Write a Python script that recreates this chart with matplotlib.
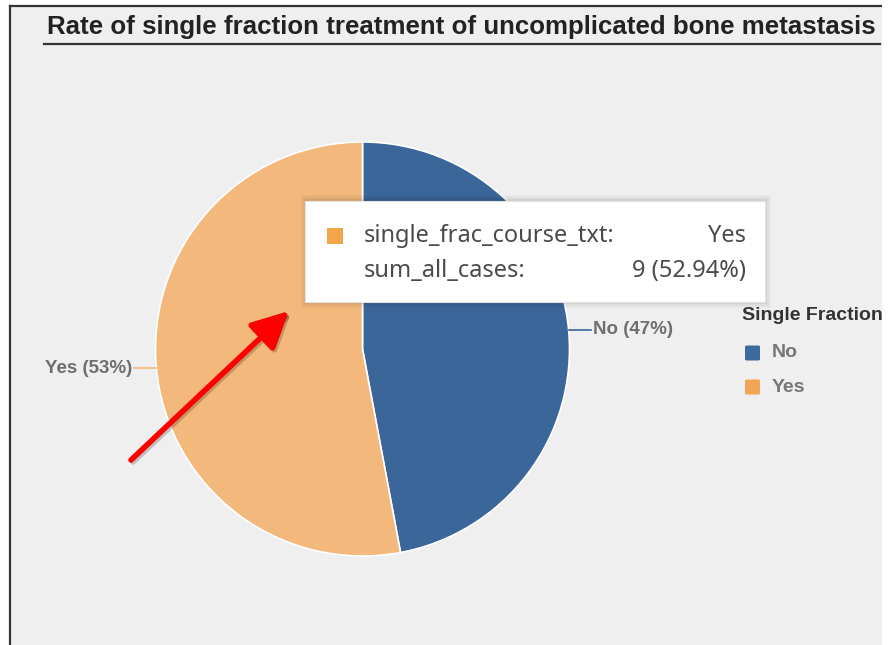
import matplotlib.pyplot as plt
import matplotlib.patches as mpatches
from matplotlib.lines import Line2D
import numpy as np

W, H = 895, 645

categories = ["No", "Yes"]
case_counts = [8, 9]
slice_colors = ["#3a6699", "#f3b87c"]
legend_colors = ["#3d6a9c", "#f0a656"]
legend_title = "Single Fraction"
chart_title = "Rate of single fraction treatment of uncomplicated bone metastasis"
tooltip_rows = [("single_frac_course_txt:", "Yes"), ("sum_all_cases:", "9 (52.94%)")]


def fx(x):
    return x / W


def fy(y):
    return 1 - y / H


plt.rcParams['font.family'] = ['Liberation Sans', 'DejaVu Sans']
fig = plt.figure(figsize=(W / 100, H / 100), dpi=100)
fig.patch.set_facecolor("white")

# gray panel with dark top/left border
fig.add_artist(mpatches.Rectangle((fx(11), fy(645)), fx(882 - 11), (645 - 6) / H,
                                  transform=fig.transFigure, facecolor="#efefef",
                                  edgecolor="none", zorder=0))
fig.add_artist(Line2D([fx(10), fx(882)], [fy(5.5), fy(5.5)], transform=fig.transFigure,
                      color="#333333", lw=1.6))
fig.add_artist(Line2D([fx(10), fx(10)], [fy(5.5), fy(645)], transform=fig.transFigure,
                      color="#333333", lw=1.6))

# title + underline
fig.text(fx(47), fy(27), chart_title, fontsize=18.6, fontweight="bold", color="#222222",
         va="center", ha="left")
fig.add_artist(Line2D([fx(44), fx(880)], [fy(44), fy(44)], transform=fig.transFigure,
                      color="#333333", lw=1.6))

# pie
cx, cy, r = 362.5, 349, 207
ax = fig.add_axes([fx(cx - r), fy(cy + r), 2 * r / W, 2 * r / H])
ax.set_aspect("equal")
wedges, _ = ax.pie(case_counts, colors=slice_colors, startangle=90, counterclock=False,
                   radius=1, wedgeprops=dict(edgecolor="white", linewidth=1.2))
ax.set_xlim(-1, 1)
ax.set_ylim(-1, 1)
ax.axis("off")

total = sum(case_counts)
for w, cat, cnt, col in zip(wedges, categories, case_counts, slice_colors):
    mid = np.radians((w.theta1 + w.theta2) / 2)
    x0, y0 = np.cos(mid), np.sin(mid)
    side = 1 if x0 > 0 else -1
    x1 = x0 + side * 22 / r
    ax.plot([x0, x1], [y0, y0], color=col, lw=1.2, clip_on=False)
    ax.text(x1 + side * 2 / r, y0, f"{cat} ({round(cnt / total * 100)}%)", fontsize=13.5,
            fontweight="bold", color="#6e6e6e", ha="left" if side > 0 else "right",
            va="center", clip_on=False)

# legend
fig.text(fx(742), fy(315), legend_title, fontsize=14, fontweight="bold", color="#333333",
         va="center", ha="left")
for i, (cat, col) in enumerate(zip(categories, legend_colors)):
    yy = 353 + i * 34
    fig.add_artist(mpatches.FancyBboxPatch((fx(745), fy(yy + 7.5)), fx(15), 15 / H,
                                           boxstyle="round,pad=0,rounding_size=0.002",
                                           transform=fig.transFigure, facecolor=col,
                                           edgecolor="none"))
    fig.text(fx(772), fy(yy), cat, fontsize=14, fontweight="bold", color="#777777",
             va="center", ha="left")

# tooltip with soft shadow
for k, a in [(6, 0.03), (4, 0.04), (2, 0.06)]:
    fig.add_artist(mpatches.Rectangle((fx(305 - k + 2), fy(302 + k)), fx(460 + 2 * k - 2),
                                      (101 + 2 * k) / H, transform=fig.transFigure,
                                      facecolor="black", alpha=a, edgecolor="none"))
fig.add_artist(mpatches.Rectangle((fx(305), fy(302)), fx(460), 101 / H,
                                  transform=fig.transFigure, facecolor="white",
                                  edgecolor="#e4e4e4", lw=0.8))
fig.add_artist(mpatches.Rectangle((fx(327), fy(244)), fx(16), 16 / H,
                                  transform=fig.transFigure, facecolor="#f2a54a",
                                  edgecolor="none"))
for i, (k, v) in enumerate(tooltip_rows):
    yy = 236 + i * 35
    fig.text(fx(364), fy(yy), k, fontsize=17, color="#4a4a4a", va="center", ha="left",
             family=["Noto Sans", "DejaVu Sans"])
    fig.text(fx(746), fy(yy), v, fontsize=17, color="#4a4a4a", va="center", ha="right",
             family=["Noto Sans", "DejaVu Sans"])

# red arrow with shadow
for dx, dy, col, a in [(2, 2, "black", 0.2), (0, 0, "#ff0000", 1)]:
    fig.add_artist(mpatches.FancyArrowPatch((131 + dx, H - 460 - dy), (289 + dx, H - 311 - dy),
                                            transform=None, arrowstyle="-|>,head_length=16,head_width=8",
                                            mutation_scale=1.4, color=col, alpha=a, lw=4,
                                            shrinkA=0, shrinkB=0))

# white strip on the right clips the panel
fig.add_artist(mpatches.Rectangle((fx(882), 0), fx(W - 882), 1, transform=fig.transFigure,
                                  facecolor="white", edgecolor="none", zorder=10))

fig.savefig("out.png", dpi=100)
